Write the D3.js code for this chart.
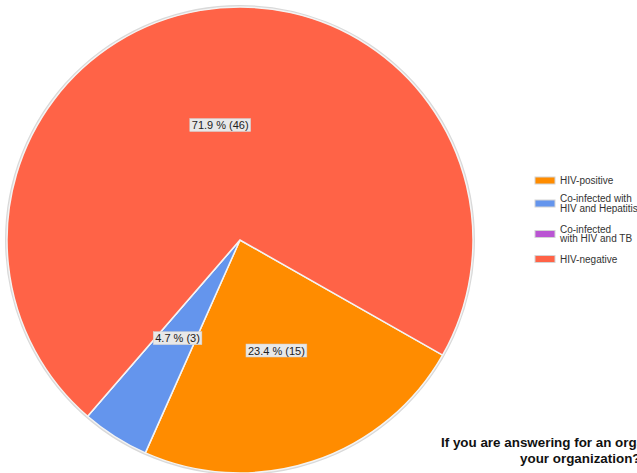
<!DOCTYPE html>
<html>
<head>
<meta charset="utf-8">
<script src="https://cdn.jsdelivr.net/npm/d3@7"></script>
<style>
  body { margin: 0; background: #fff; }
  text { font-family: "Liberation Sans", Arial, sans-serif; }
</style>
</head>
<body>
<div id="chart"></div>
<script>
const svgWidth = 637;
const svgHeight = 473;

// data
const categories = ["HIV-positive", "Co-infected with HIV and Hepatitis", "Co-infected with HIV and TB", "HIV-negative"];
const legendLines = [["HIV-positive"], ["Co-infected with", "HIV and Hepatitis"], ["Co-infected", "with HIV and TB"], ["HIV-negative"]];
const counts = [15, 3, 0, 46];
const colors = ["#FF8C00", "#6495ED", "#BA55D3", "#FF6347"];
const titleLines = ["If you are answering for an organization, who does", "your organization?"];

document.addEventListener("DOMContentLoaded", function(event){
  drawChart();
});

function drawChart(){
  const svg = d3.select("#chart")
    .append("svg")
    .attr("width", svgWidth)
    .attr("height", svgHeight);

  const cx = 240, cy = 240, radius = 233;
  const total = d3.sum(counts);
  const start = 119.6 * Math.PI / 180;

  const pie = d3.pie()
    .value(d => d)
    .sort(null)
    .startAngle(start)
    .endAngle(start + 2 * Math.PI);

  const arcs = pie(counts);
  const arc = d3.arc().innerRadius(0).outerRadius(radius);
  const labelArc = d3.arc().innerRadius(radius / 2).outerRadius(radius / 2);

  const g = svg.append("g")
    .attr("transform", "translate(" + cx + "," + cy + ")");

  // outer rim
  g.append("circle")
    .attr("r", radius + 1)
    .attr("fill", "none")
    .attr("stroke", "#d9d9d9")
    .attr("stroke-width", 2);

  g.selectAll("path.slice")
    .data(arcs)
    .enter()
    .append("path")
    .attr("class", "slice")
    .attr("d", arc)
    .attr("fill", (d, i) => colors[i])
    .attr("stroke", "#f4f4f4")
    .attr("stroke-width", 1.5);

  // labels
  const labels = g.selectAll("g.lbl")
    .data(arcs.filter(d => d.value > 0))
    .enter()
    .append("g")
    .attr("class", "lbl")
    .attr("transform", d => "translate(" + labelArc.centroid(d) + ")");

  labels.append("text")
    .attr("text-anchor", "middle")
    .attr("dy", "0.35em")
    .attr("font-size", 11)
    .attr("fill", "#222")
    .text(d => (d.value / total * 100).toFixed(1) + " % (" + d.value + ")");

  labels.each(function(){
    const t = d3.select(this).select("text");
    const b = t.node().getBBox();
    d3.select(this).insert("rect", "text")
      .attr("x", b.x - 2)
      .attr("y", b.y - 0.5)
      .attr("width", b.width + 4)
      .attr("height", b.height + 1)
      .attr("fill", "#e8e8e8")
      .attr("stroke", "#d0d0d0")
      .attr("stroke-width", 0.5);
  });

  // legend
  const legendY = [180.5, 203.5, 234, 259];
  const legend = svg.append("g");
  legendLines.forEach((lines, i) => {
    const row = legend.append("g")
      .attr("transform", "translate(535," + legendY[i] + ")");
    row.append("rect")
      .attr("x", 0)
      .attr("y", -3.5)
      .attr("width", 20)
      .attr("height", 7)
      .attr("fill", colors[i])
      .attr("stroke", "#d4d4d4")
      .attr("stroke-width", 1);
    const off = (lines.length - 1) * 9.5 / 2;
    lines.forEach((ln, j) => {
      row.append("text")
        .attr("x", 25)
        .attr("y", -off + j * 9.5)
        .attr("dy", "0.35em")
        .attr("font-size", 10)
        .attr("fill", "#333")
        .text(ln);
    });
  });

  // title (runs past the right edge, as in the original)
  svg.append("text")
    .attr("x", 441)
    .attr("y", 447)
    .attr("font-size", 13.4)
    .attr("font-weight", "bold")
    .attr("fill", "#111")
    .text(titleLines[0]);
  svg.append("text")
    .attr("x", 520)
    .attr("y", 463)
    .attr("font-size", 13.4)
    .attr("font-weight", "bold")
    .attr("fill", "#111")
    .text(titleLines[1]);
}
</script>
</body>
</html>
